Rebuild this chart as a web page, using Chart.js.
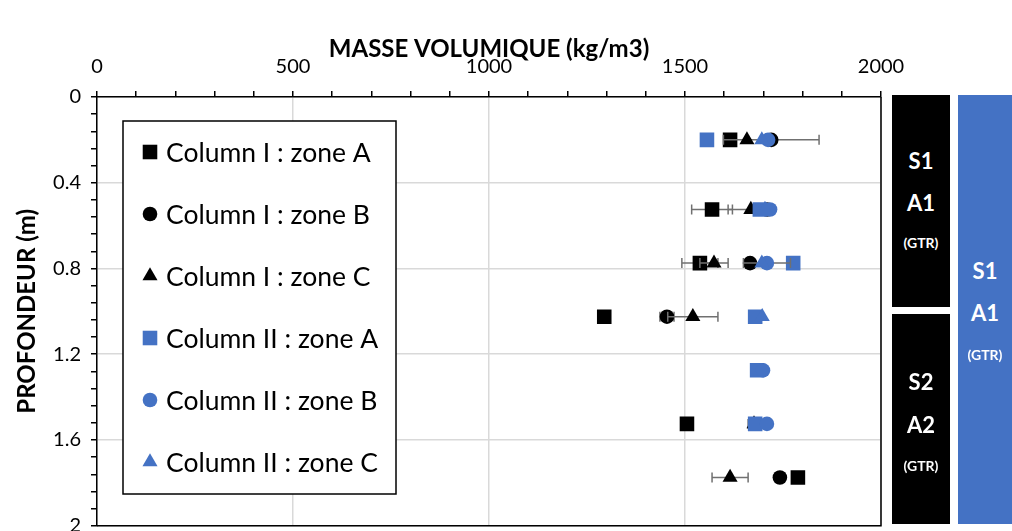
<!DOCTYPE html>
<html>
<head>
<meta charset="utf-8">
<script src="https://cdn.jsdelivr.net/npm/chart.js@4"></script>
<style>
  html, body { margin: 0; background: #fff; overflow: hidden; }
  #wrap { position: relative; width: 1012px; height: 531px; overflow: hidden; }
  #chart { position: absolute; left: 0; top: 0; }
  .box { position: absolute; color: #fff; font-family: Lato, sans-serif; font-weight: bold; text-align: center; }
  .box span { position: absolute; left: 0; right: 0; transform: translateY(-50%); }
  .big { font-size: 22px; }
  .small { font-size: 14px; }
</style>
</head>
<body>
<div id="wrap">
  <canvas id="chart" width="1012" height="536"></canvas>
  <div class="box" style="left:892px;top:95px;width:58px;height:212px;background:#000;">
    <span class="big" style="top:65px">S1</span>
    <span class="big" style="top:107px">A1</span>
    <span class="small" style="top:147px">(GTR)</span>
  </div>
  <div class="box" style="left:892px;top:314px;width:58px;height:210px;background:#000;">
    <span class="big" style="top:67px">S2</span>
    <span class="big" style="top:110px">A2</span>
    <span class="small" style="top:151px">(GTR)</span>
  </div>
  <div class="box" style="left:958px;top:95px;width:54px;height:429px;background:#4472c4;">
    <span class="big" style="top:175px">S1</span>
    <span class="big" style="top:217px">A1</span>
    <span class="small" style="top:259px">(GTR)</span>
  </div>
</div>
<script>
// profondeur (m) des mesures
var depths = [0.2, 0.525, 0.775, 1.025, 1.275, 1.525, 1.775];

var seriesNames = ['Column I : zone A', 'Column I : zone B', 'Column I : zone C',
                   'Column II : zone A', 'Column II : zone B', 'Column II : zone C'];

// masse volumique (kg/m3)
var colIA  = [1615, 1569, 1538, 1294, null, 1505, 1788];
var colIB  = [1720, 1709, 1666, 1454, null, null, 1742];
var colIC  = [1658, 1668, 1574, 1520, null, 1676, 1615];
var colIIA = [1556, 1691, 1776, 1679, 1684, 1679, null];
var colIIB = [1712, 1717, 1709, null, 1699, 1709, null];
var colIIC = [1696, 1704, 1696, 1697, null, null, null];

// barres d'erreur (+/-)
var errIA  = [null, 52, 46, null, null, null, null];
var errIB  = [122, null, null, 18, null, null, null];
var errIC  = [null, 58, 36, 64, null, 15, 46];
var errIIA = [null, null, null, null, null, null, null];
var errIIB = [null, null, 60, null, null, null, null];
var errIIC = [null, null, null, null, null, null, null];

var xTicks = [0, 500, 1000, 1500, 2000];
var yTicks = [0, 0.4, 0.8, 1.2, 1.6, 2];

var values = [colIA, colIB, colIC, colIIA, colIIB, colIIC];
var errors = [errIA, errIB, errIC, errIIA, errIIB, errIIC];
var colors = ['#000000', '#000000', '#000000', '#4472c4', '#4472c4', '#4472c4'];
var styles = ['rect', 'circle', 'triangle', 'rect', 'circle', 'triangle'];
var radii = [10.3, 7.3, 8.7, 10.3, 7.3, 8.7];

function toPoints(vals) {
  var pts = [];
  vals.forEach(function (v, i) {
    if (v !== null) pts.push({ x: v, y: depths[i] });
  });
  return pts;
}

var datasets = values.map(function (vals, i) {
  return {
    label: seriesNames[i],
    data: toPoints(vals),
    errors: errors[i].filter(function (e, j) { return vals[j] !== null; }),
    pointStyle: styles[i],
    pointRadius: radii[i],
    pointHoverRadius: radii[i],
    backgroundColor: colors[i],
    borderColor: colors[i],
    borderWidth: 0,
    showLine: false,
    order: 6 - i
  };
});

function drawMarker(ctx, style, x, y, r, color) {
  ctx.save();
  ctx.fillStyle = color;
  ctx.beginPath();
  if (style === 'rect') {
    var s = r * Math.SQRT1_2;
    ctx.rect(x - s, y - s, 2 * s, 2 * s);
  } else if (style === 'circle') {
    ctx.arc(x, y, r, 0, Math.PI * 2);
  } else {
    ctx.moveTo(x, y - r);
    ctx.lineTo(x + r * 0.866, y + r * 0.5);
    ctx.lineTo(x - r * 0.866, y + r * 0.5);
    ctx.closePath();
  }
  ctx.fill();
  ctx.restore();
}

var errorBars = {
  id: 'errorBars',
  beforeDatasetDraw: function (chart, args) {
    var ds = chart.data.datasets[args.index];
    var ctx = chart.ctx, xs = chart.scales.x, ys = chart.scales.y;
    ctx.save();
    ctx.strokeStyle = '#707070';
    ctx.lineWidth = 1.5;
    ds.data.forEach(function (p, i) {
      var e = ds.errors[i];
      if (!e) return;
      var y = ys.getPixelForValue(p.y);
      var x1 = xs.getPixelForValue(p.x - e), x2 = xs.getPixelForValue(p.x + e);
      ctx.beginPath();
      ctx.moveTo(x1, y); ctx.lineTo(x2, y);
      ctx.moveTo(x1, y - 5); ctx.lineTo(x1, y + 5);
      ctx.moveTo(x2, y - 5); ctx.lineTo(x2, y + 5);
      ctx.stroke();
    });
    ctx.restore();
  }
};

var frameAndLegend = {
  id: 'frameAndLegend',
  beforeDatasetsDraw: function (chart) {
    var a = chart.chartArea, ctx = chart.ctx;
    ctx.save();
    ctx.strokeStyle = '#000';
    ctx.lineWidth = 1.5;
    ctx.beginPath();
    ctx.moveTo(a.left, a.bottom); ctx.lineTo(a.right, a.bottom); ctx.lineTo(a.right, a.top);
    ctx.stroke();
    ctx.restore();
  },
  afterDraw: function (chart) {
    var ctx = chart.ctx;
    ctx.save();
    ctx.fillStyle = '#fff';
    ctx.fillRect(123, 121, 273, 373);
    ctx.strokeStyle = '#000';
    ctx.lineWidth = 1.5;
    ctx.strokeRect(123, 121, 273, 373);
    ctx.font = '26.5px Lato';
    ctx.textBaseline = 'middle';
    ctx.fillStyle = '#000';
    chart.data.datasets.forEach(function (ds, i) {
      var y = 152 + i * 62;
      drawMarker(ctx, ds.pointStyle, 150, y, ds.pointRadius, ds.backgroundColor);
      ctx.fillStyle = '#000';
      ctx.fillText(ds.label, 166, y + 1);
    });
    ctx.restore();
  }
};

function isMult(v, step) {
  var q = v / step;
  return Math.abs(q - Math.round(q)) < 1e-6;
}

new Chart(document.getElementById('chart'), {
  type: 'scatter',
  data: { datasets: datasets },
  plugins: [errorBars, frameAndLegend],
  options: {
    responsive: false,
    animation: false,
    layout: { padding: { left: 0, top: 0, right: 131, bottom: 0 } },
    plugins: { legend: { display: false }, tooltip: { enabled: false } },
    scales: {
      x: {
        type: 'linear',
        position: 'top',
        min: xTicks[0],
        max: xTicks[xTicks.length - 1],
        afterFit: function (s) { s.height = 97; s.paddingLeft = 0; s.paddingRight = 0; },
        title: {
          display: true,
          text: 'MASSE VOLUMIQUE (kg/m3)',
          color: '#000',
          font: { family: 'Lato', size: 24, weight: 'bold' },
          padding: { top: 35, bottom: 0 }
        },
        ticks: {
          stepSize: 100,
          autoSkip: false,
          maxRotation: 0,
          color: '#000',
          padding: 12,
          font: { family: 'Lato', size: 20 },
          callback: function (v) { return xTicks.indexOf(v) >= 0 ? String(v) : ''; }
        },
        grid: {
          color: function (c) { return c.tick && isMult(c.tick.value, 500) ? '#d9d9d9' : 'rgba(0,0,0,0)'; },
          tickColor: '#000',
          tickLength: 6,
          lineWidth: 1.5
        },
        border: { color: '#000', width: 1.5 }
      },
      y: {
        type: 'linear',
        reverse: true,
        min: yTicks[0],
        max: yTicks[yTicks.length - 1],
        afterFit: function (s) { s.width = 97; s.paddingTop = 0; s.paddingBottom = 0; },
        title: {
          display: true,
          text: 'PROFONDEUR (m)',
          color: '#000',
          font: { family: 'Lato', size: 24, weight: 'bold' },
          padding: { top: 13, bottom: 0 }
        },
        ticks: {
          stepSize: 0.08,
          autoSkip: false,
          color: '#000',
          padding: 10,
          font: { family: 'Lato', size: 20 },
          callback: function (v) {
            return isMult(v, 0.4) ? String(Number(v.toFixed(1))) : '';
          }
        },
        grid: {
          color: function (c) { return c.tick && isMult(c.tick.value, 0.4) ? '#d9d9d9' : 'rgba(0,0,0,0)'; },
          tickColor: '#000',
          tickLength: 6,
          lineWidth: 1.5
        },
        border: { color: '#000', width: 1.5 }
      }
    }
  }
});
</script>
</body>
</html>
